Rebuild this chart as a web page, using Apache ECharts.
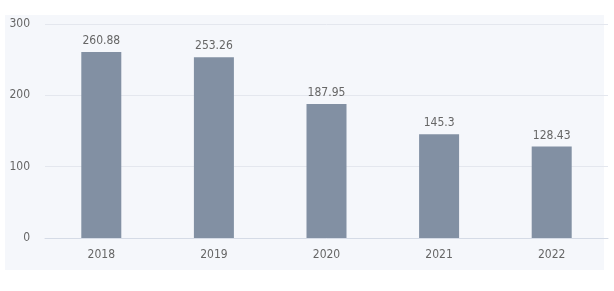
<!DOCTYPE html>
<html><head><meta charset="utf-8">
<script src="https://cdn.jsdelivr.net/npm/echarts@6/dist/echarts.min.js"></script>
<style>html,body{margin:0;padding:0;background:#fff}#c{width:614px;height:291px}</style>
</head><body><div id="c"></div>
<script>
const categories = ['2018','2019','2020','2021','2022'];
const values = [260.88, 253.26, 187.95, 145.3, 128.43];
const yTicks = [0, 100, 200, 300];

const chart = echarts.init(document.getElementById('c'), null, {renderer:'canvas'});
chart.setOption({
  animation: false,
  backgroundColor: '#ffffff',
  graphic: [{type:'rect', z:-10, silent:true, shape:{x:5,y:15,width:599,height:255}, style:{fill:'#f5f7fb'}}],
  grid: {left:45, right:6, top:24, bottom:53},
  xAxis: {
    type:'category', data: categories,
    axisLine:{lineStyle:{color:'#d5dbe6'}},
    axisTick:{show:false},
    axisLabel:{color:'#666', fontSize:12, margin:11, fontFamily:'DejaVu Sans Condensed, Liberation Sans, sans-serif'}
  },
  yAxis: {
    type:'value', min:yTicks[0], max:yTicks[yTicks.length-1], interval:100,
    axisLine:{show:false}, axisTick:{show:false},
    splitLine:{lineStyle:{color:'#e4e7ee'}},
    axisLabel:{color:'#666', fontSize:12, margin:15, fontFamily:'DejaVu Sans Condensed, Liberation Sans, sans-serif'}
  },
  series: [{
    type:'bar', data: values, barWidth:40,
    itemStyle:{color:'#8290a3'},
    label:{show:true, position:'top', distance:5, color:'#666', fontSize:12, fontFamily:'DejaVu Sans Condensed, Liberation Sans, sans-serif'}
  }]
});
</script></body></html>
